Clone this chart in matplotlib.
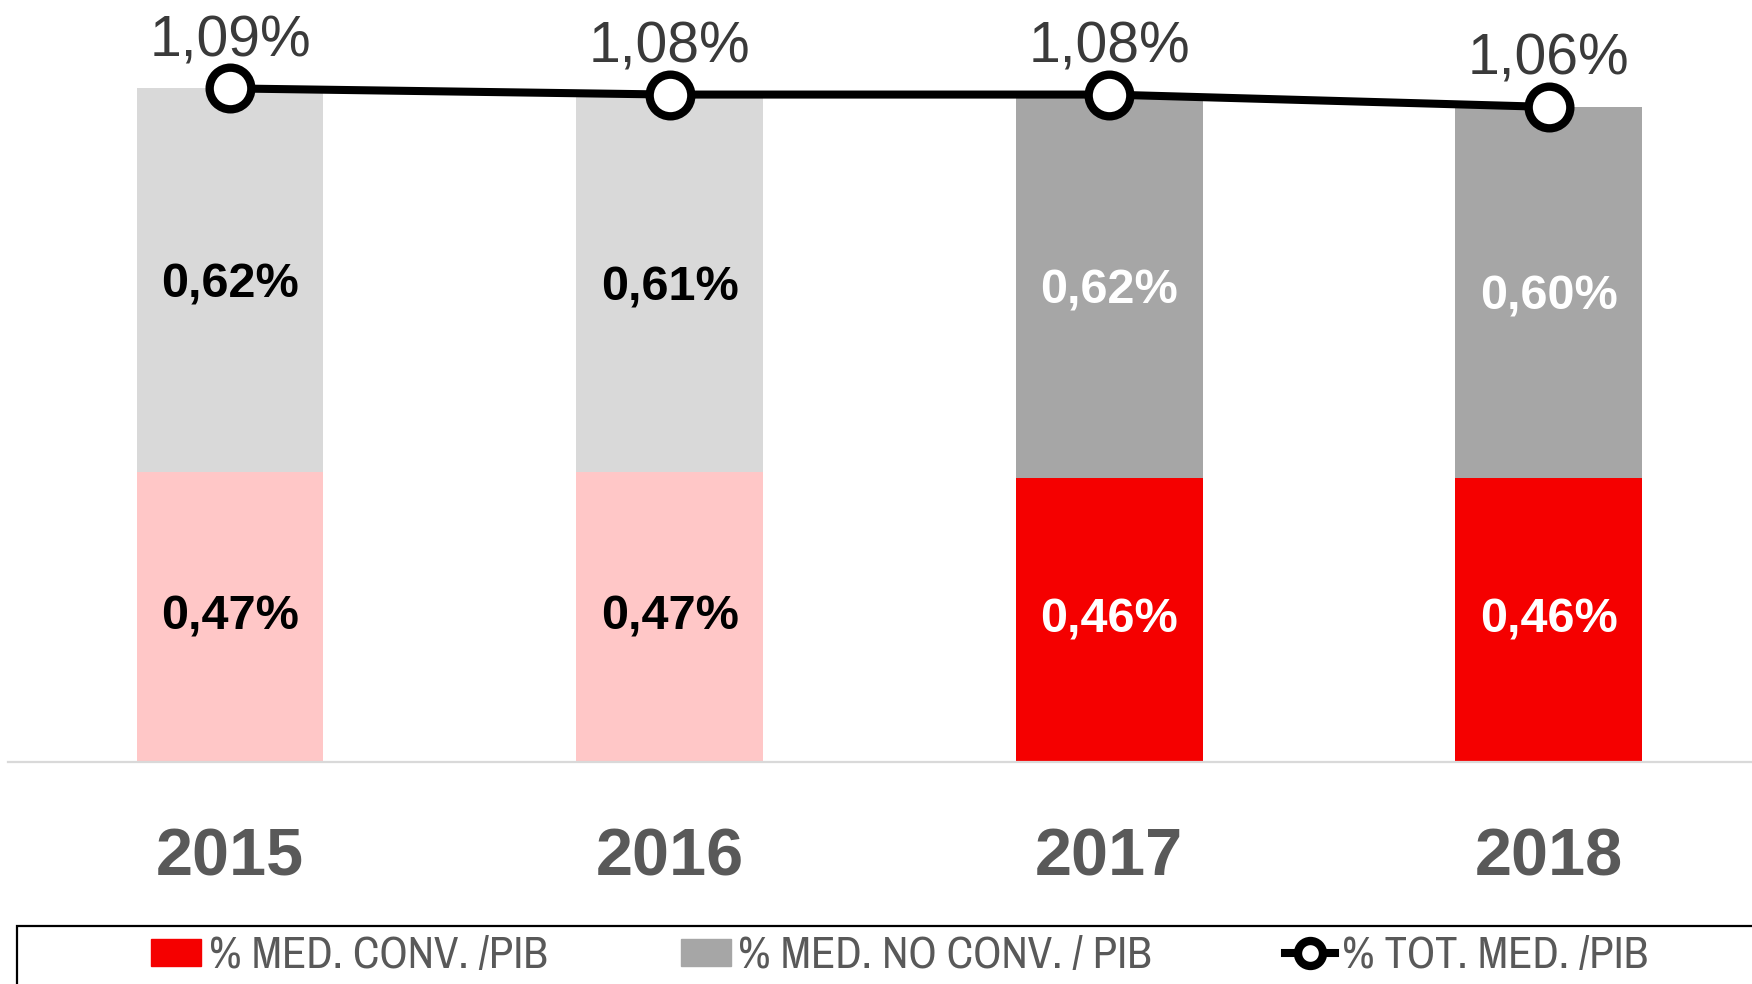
import matplotlib
matplotlib.use("Agg")
import matplotlib.pyplot as plt
from matplotlib.patches import Patch, Rectangle
from matplotlib.lines import Line2D
from matplotlib.font_manager import fontManager

years = ['2015', '2016', '2017', '2018']
conv = [0.47, 0.47, 0.46, 0.46]       # % med. convencional / PIB
noconv = [0.62, 0.61, 0.62, 0.60]     # % med. no convencional / PIB
total = [1.09, 1.08, 1.08, 1.06]      # % total / PIB

conv_colors = ['#ffc7c7', '#ffc7c7', '#f50000', '#f50000']
noconv_colors = ['#d9d9d9', '#d9d9d9', '#a6a6a6', '#a6a6a6']
inner_txt = ['black', 'black', 'white', 'white']

legend_labels = ['% MED. CONV. /PIB', '% MED. NO CONV. / PIB', '% TOT. MED. /PIB']

plt.rcParams['font.family'] = ['Liberation Sans', 'DejaVu Sans']

# pick a condensed face for the legend if one is there
names = sorted(set(f.name for f in fontManager.ttflist))
narrow = [n for n in names if 'Narrow' in n or 'Condensed' in n]
leg_family = narrow[0] if narrow else 'Liberation Sans'

W, H = 1752, 984
fig = plt.figure(figsize=(W / 100, H / 100), dpi=100)
# axes: from x=8px to right edge, baseline at y=762px up to top
ax = fig.add_axes([8 / W, (H - 762) / H, 1 - 8 / W, 762 / H])

x = list(range(len(years)))
bw = 0.425
ax.bar(x, conv, width=bw, color=conv_colors, zorder=2)
ax.bar(x, noconv, width=bw, bottom=conv, color=noconv_colors, zorder=2)
ax.plot(x, total, color='black', lw=5.8, marker='o', ms=30, mfc='white',
        mec='black', mew=6, zorder=4, clip_on=False)

def fmt(v):
    return f"{v:.2f}%".replace('.', ',')

for i in x:
    ax.text(i, conv[i] / 2, fmt(conv[i]), ha='center', va='center',
            fontsize=35, fontweight='bold', color=inner_txt[i], zorder=5)
    ax.text(i, conv[i] + noconv[i] / 2 - 0.008, fmt(noconv[i]), ha='center', va='center',
            fontsize=35, fontweight='bold', color=inner_txt[i], zorder=5)
    ax.annotate(fmt(total[i]), (i, total[i]), xytext=(0, 34), textcoords='offset points',
                ha='center', va='center', fontsize=41, color='#3a3a3a',
                annotation_clip=False, zorder=5)
    ax.text(i, -0.127, years[i], transform=ax.get_xaxis_transform(), ha='center',
            va='center', fontsize=48, fontweight='bold', color='#595959')

ax.set_xlim(-0.505, 3.462)
ax.set_ylim(0, 762 / 618)
for s in ['top', 'left', 'right']:
    ax.spines[s].set_visible(False)
ax.spines['bottom'].set_color('#d9d9d9')
ax.spines['bottom'].set_linewidth(1.6)
ax.set_xticks([])
ax.set_yticks([])

# legend box, runs off the right and bottom edges
fig.patches.append(Rectangle((17 / W, -0.1), 1.2, 0.1 + (H - 926) / H,
                             transform=fig.transFigure, fill=False,
                             edgecolor='black', lw=1.6))

handles = [Patch(color='#f50000'), Patch(color='#a6a6a6'),
           Line2D([], [], color='black', lw=5.8, marker='o', ms=30, mfc='white',
                  mec='black', mew=6)]
leg_size = 32 if narrow else 25.5
fig.legend(handles, legend_labels, loc='center left', bbox_to_anchor=(151 / W, 28 / H),
           ncol=3, frameon=False, borderpad=0, borderaxespad=0,
           handlelength=1.2 * 30 / leg_size, handleheight=0.55, handletextpad=0.17,
           columnspacing=3.2 * 30 / leg_size, markerscale=0.6,
           prop={'family': leg_family, 'size': leg_size},
           labelcolor='#595959')

plt.savefig("out.png", dpi=100)
